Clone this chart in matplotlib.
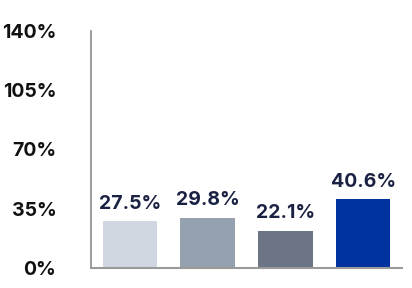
import matplotlib
matplotlib.use("Agg")
import matplotlib.pyplot as plt

categories = ["A", "B", "C", "D"]
values = [27.5, 29.8, 22.1, 40.6]
labels = ["27.5%", "29.8%", "22.1%", "40.6%"]
colors = ["#d0d7e0", "#96a1b0", "#6b7586", "#0033a0"]
yticks = [0, 35, 70, 105, 140]
yticklabels = ["0%", "35%", "70%", "105%", "140%"]

plt.rcParams['font.family'] = ['Inter', 'DejaVu Sans']

fig = plt.figure(figsize=(4.12, 2.88), dpi=100)
ax = fig.add_axes([91/412, 1-268/288, (402-91)/412, (268-31)/288])

x = range(len(categories))
ax.bar(x, values, width=0.7, color=colors)
ax.set_xlim(-0.5, 3.5)
ax.set_ylim(0, 140)
ax.set_yticks(yticks)
ax.set_yticklabels(yticklabels, fontsize=14, fontweight='bold', color='#111111')
ax.set_xticks([])
ax.tick_params(axis='y', length=0, pad=25)
for s in ['top', 'right']:
    ax.spines[s].set_visible(False)
ax.spines['left'].set_color('#8a8a8a')
ax.spines['left'].set_linewidth(1.2)
ax.spines['bottom'].set_color('#9a9a9a')
ax.spines['bottom'].set_linewidth(1.5)

for xi, v, lab in zip(x, values, labels):
    ax.annotate(lab, (xi, v), xytext=(0, 6), textcoords='offset points',
                ha='center', va='bottom', fontsize=14, fontweight='bold', color='#1a2142')

fig.savefig("out.png", dpi=100)
